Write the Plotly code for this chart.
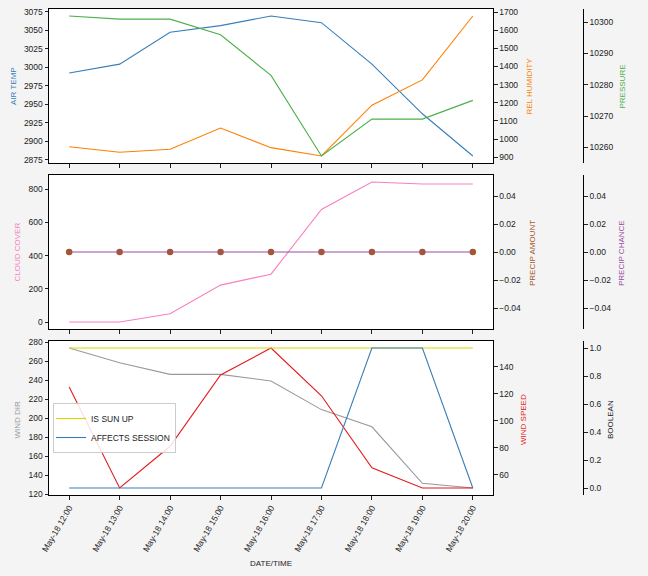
import plotly.graph_objects as go
import pandas as pd

# ---------------- data ----------------
times = ["2023-05-18 12:00", "2023-05-18 13:00", "2023-05-18 14:00", "2023-05-18 15:00",
         "2023-05-18 16:00", "2023-05-18 17:00", "2023-05-18 18:00", "2023-05-18 19:00",
         "2023-05-18 20:00"]
air_temp = [2992, 3004, 3047, 3056, 3069, 3060, 3004, 2937, 2880]
rel_humidity = [958, 928, 944, 1061, 953, 907, 1187, 1326, 1678]
pressure = [10302, 10301, 10301, 10296, 10283, 10257.2, 10269, 10269, 10275]
cloud_cover = [0, 0, 50, 222, 288, 678, 843, 831, 831]
precip_amount = [0, 0, 0, 0, 0, 0, 0, 0, 0]
precip_chance = [0, 0, 0, 0, 0, 0, 0, 0, 0]
wind_dir = [273.7, 258.3, 246, 246, 239, 209, 191, 131.6, 126.7]
wind_speed = [125, 50, 81, 134, 154, 118.5, 65, 50, 50]
is_sun_up = [1, 1, 1, 1, 1, 1, 1, 1, 1]
affects_session = [0, 0, 0, 0, 0, 0, 1, 1, 0]

# ---------------- style ----------------
C_BLUE = "#377eb8"
C_ORANGE = "#ff7f00"
C_GREEN = "#4daf4a"
C_PINK = "#f781bf"
C_BROWN = "#a65628"
C_PURPLE = "#984ea3"
C_GREY = "#999999"
C_RED = "#e41a1c"
C_YELLOW = "#d8d800"
FONT = "Liberation Sans"
TICKSZ = 8.5
LABSZ = 8
W, H = 648, 576

t = pd.to_datetime(times)


def pad_range(vals, frac=0.05):
    lo, hi = min(vals), max(vals)
    if hi == lo:
        lo, hi = lo - 0.05, hi + 0.05
    d = (hi - lo) * frac
    return [lo - d, hi + d]


span = t.max() - t.min()
xr = [t.min() - span * 0.05, t.max() + span * 0.05]

XD = [49 / W, 493 / W]
def ydom(top, bot):
    return [1 - bot / H, 1 - top / H]
D1 = ydom(9, 163)
D2 = ydom(175, 329)
D3 = ydom(341, 495)
FREE_POS = 583.3 / W

fig = go.Figure()
lw = 1.1

# top panel
fig.add_trace(go.Scatter(x=t, y=air_temp, mode="lines", line=dict(color=C_BLUE, width=lw),
                         xaxis="x", yaxis="y", showlegend=False, name="AIR TEMP"))
fig.add_trace(go.Scatter(x=t, y=rel_humidity, mode="lines", line=dict(color=C_ORANGE, width=lw),
                         xaxis="x", yaxis="y2", showlegend=False, name="REL HUMIDITY"))
fig.add_trace(go.Scatter(x=t, y=pressure, mode="lines", line=dict(color=C_GREEN, width=lw),
                         xaxis="x", yaxis="y3", showlegend=False, name="PRESSURE"))
# middle panel
fig.add_trace(go.Scatter(x=t, y=cloud_cover, mode="lines", line=dict(color=C_PINK, width=lw),
                         xaxis="x2", yaxis="y4", showlegend=False, name="CLOUD COVER"))
fig.add_trace(go.Scatter(x=t, y=precip_chance, mode="lines", line=dict(color=C_PURPLE, width=lw),
                         xaxis="x2", yaxis="y6", showlegend=False, name="PRECIP CHANCE"))
fig.add_trace(go.Scatter(x=t, y=precip_amount, mode="markers",
                         marker=dict(color=C_BROWN, size=6.5, line=dict(width=0)),
                         xaxis="x2", yaxis="y5", showlegend=False, name="PRECIP AMOUNT"))
# bottom panel
fig.add_trace(go.Scatter(x=t, y=wind_dir, mode="lines", line=dict(color=C_GREY, width=lw),
                         xaxis="x3", yaxis="y7", showlegend=False, name="WIND DIR"))
fig.add_trace(go.Scatter(x=t, y=wind_speed, mode="lines", line=dict(color=C_RED, width=lw),
                         xaxis="x3", yaxis="y8", showlegend=False, name="WIND SPEED"))
fig.add_trace(go.Scatter(x=t, y=is_sun_up, mode="lines", line=dict(color=C_YELLOW, width=lw),
                         xaxis="x3", yaxis="y9", showlegend=True, name="IS SUN UP"))
fig.add_trace(go.Scatter(x=t, y=affects_session, mode="lines", line=dict(color=C_BLUE, width=lw),
                         xaxis="x3", yaxis="y9", showlegend=True, name="AFFECTS SESSION"))

tickfont = dict(family=FONT, size=TICKSZ, color="#222222")
common_ax = dict(showline=True, linecolor="black", linewidth=1, ticks="outside",
                 ticklen=3.5, tickwidth=1, tickcolor="#222222", showgrid=False,
                 zeroline=False, tickfont=tickfont, automargin=False)

xcommon = dict(common_ax, domain=XD, range=xr, type="date", mirror=True,
               tick0=t.min(), dtick=3600000, tickformat="%b-%d %H:%M")

layout = dict(
    width=W, height=H,
    margin=dict(l=0, r=0, t=0, b=0, pad=0, autoexpand=False),
    paper_bgcolor="#f4f4f4", plot_bgcolor="white",
    font=dict(family=FONT, size=TICKSZ, color="#222222"),
    xaxis=dict(xcommon, anchor="y", showticklabels=False),
    xaxis2=dict(xcommon, anchor="y4", showticklabels=False, matches="x"),
    xaxis3=dict(xcommon, anchor="y7", showticklabels=True, tickangle=-60, matches="x"),
    yaxis=dict(common_ax, domain=D1, anchor="x", range=pad_range(air_temp), dtick=25, mirror=True),
    yaxis2=dict(common_ax, overlaying="y", side="right", anchor="x",
                range=pad_range(rel_humidity), dtick=100),
    yaxis3=dict(common_ax, overlaying="y", side="right", anchor="free", position=FREE_POS,
                range=pad_range(pressure), dtick=10, tickformat="d"),
    yaxis4=dict(common_ax, domain=D2, anchor="x2", range=pad_range(cloud_cover), dtick=200, mirror=True),
    yaxis5=dict(common_ax, overlaying="y4", side="right", anchor="x2",
                range=[-0.055, 0.055], tickvals=[-0.04, -0.02, 0, 0.02, 0.04], tickformat=".2f"),
    yaxis6=dict(common_ax, overlaying="y4", side="right", anchor="free", position=FREE_POS,
                range=[-0.055, 0.055], tickvals=[-0.04, -0.02, 0, 0.02, 0.04], tickformat=".2f"),
    yaxis7=dict(common_ax, domain=D3, anchor="x3", range=pad_range(wind_dir), dtick=20, mirror=True),
    yaxis8=dict(common_ax, overlaying="y7", side="right", anchor="x3",
                range=pad_range(wind_speed), dtick=20),
    yaxis9=dict(common_ax, overlaying="y7", side="right", anchor="free", position=FREE_POS,
                range=pad_range(is_sun_up + affects_session), dtick=0.2, tickformat=".1f"),
    legend=dict(x=53 / W, y=1 - 403 / H, xanchor="left", yanchor="top",
                bgcolor="rgba(255,255,255,0.85)", bordercolor="#cccccc", borderwidth=1,
                font=dict(family=FONT, size=TICKSZ, color="#222222"),
                itemwidth=30, tracegroupgap=0, indentation=-3),
)
fig.update_layout(**layout)

labels = [
    ("AIR TEMP", 13, 86, C_BLUE, -90),
    ("REL HUMIDITY", 528.5, 86, C_ORANGE, -90),
    ("PRESSURE", 622.5, 87, C_GREEN, -90),
    ("CLOUD COVER", 16.5, 252, C_PINK, -90),
    ("PRECIP AMOUNT", 532, 253, C_BROWN, -90),
    ("PRECIP CHANCE", 621, 253, C_PURPLE, -90),
    ("WIND DIR", 16.5, 420, C_GREY, -90),
    ("WIND SPEED", 523, 420, C_RED, -90),
    ("BOOLEAN", 610, 420, "#222222", -90),
    ("DATE/TIME", 271, 563, "#222222", 0),
]
for txt, px, py, col, ang in labels:
    fig.add_annotation(text=txt, x=px / W, y=1 - py / H, xref="paper", yref="paper",
                       showarrow=False, textangle=ang, xanchor="center", yanchor="middle",
                       font=dict(family=FONT, size=LABSZ, color=col))

fig.write_html("out.html", config={"displayModeBar": False},
               post_script="document.body.style.margin='0';")
